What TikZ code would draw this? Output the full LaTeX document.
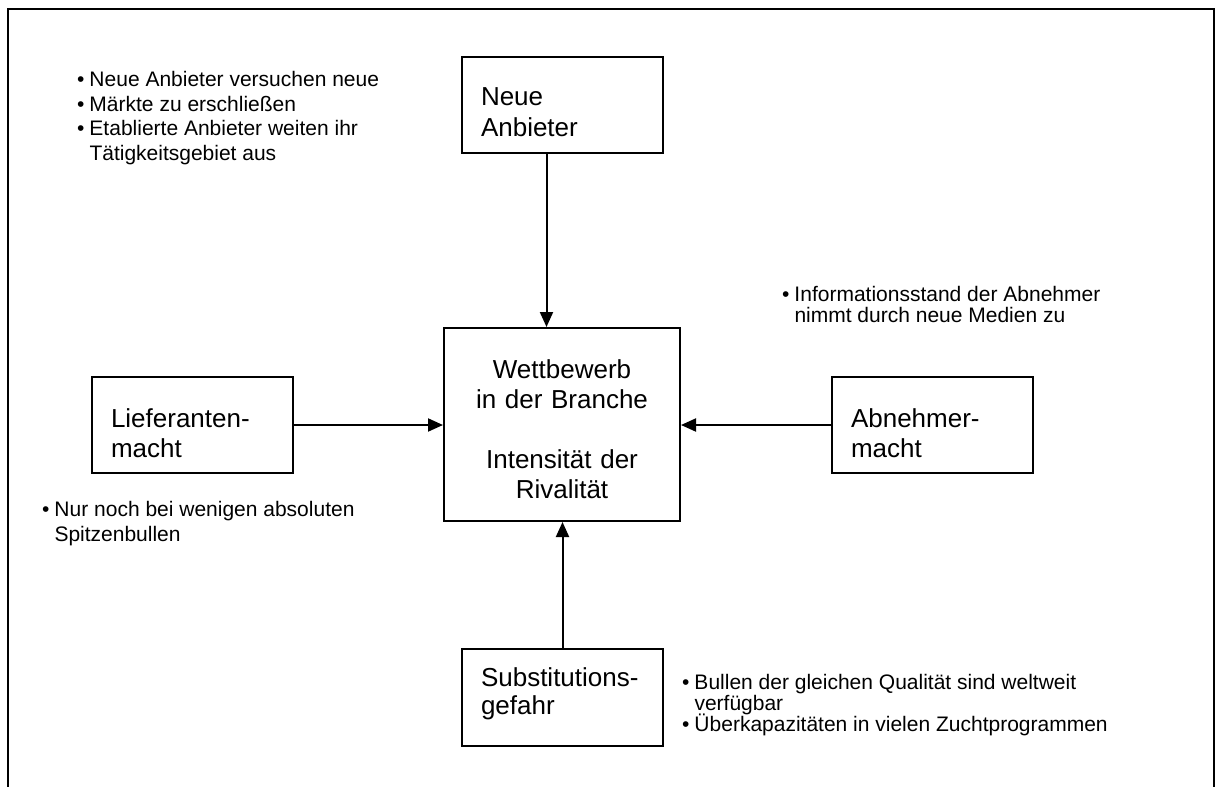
\documentclass[tikz,border=0pt]{standalone}
\usepackage{fontspec}
\setmainfont{Liberation Sans}
\usetikzlibrary{arrows.meta}
\newcommand\up[1]{\rule{0pt}{#1pt}}
\newcommand\dn[1]{\rule[-#1pt]{0pt}{#1pt}}
\newcommand\bl{\makebox[12.3pt][l]{•}}
\newcommand\ind{\hspace*{12.3pt}}
\newcommand\sh{\hspace*{15pt}}
\newcommand\fbig[1]{\fontsize{26}{#1}\selectfont}
\newcommand\fsmall[1]{\fontsize{21}{#1}\selectfont}
\begin{document}
\setlength{\lineskiplimit}{-50pt}
\begin{tikzpicture}[x=1pt,y=-1pt,
  box/.style={draw, line width=2pt, inner xsep=19pt, inner ysep=0pt,
    minimum height=96pt, text width=163pt, align=left, anchor=north west,
    font=\fbig{30}},
  note/.style={anchor=north west, inner sep=0pt, align=left, font=\fsmall{24.5}},
  arr/.style={line width=2pt, -{Triangle[length=15pt,width=13pt]}}
]
\useasboundingbox (0,0) rectangle (1218,787);
\draw[line width=2pt] (7.5,787) -- (7.5,8.5) -- (1213.5,8.5) -- (1213.5,787);

\node[box, font=\fbig{31}] (neue) at (461,56) {\up{33}Neue\\Anbieter};
\node[box] (lief) at (91,376) {\up{36}Lieferanten-\\macht};
\node[box] (abn) at (831,376) {\up{36}Abnehmer-\\macht};
\node[box, minimum height=97pt, font=\fbig{28}] (subs) at (461,648) {\up{20}Substitutions-\\gefahr\dn{15}};
\node[draw, line width=2pt, inner sep=0pt, minimum width=236pt, minimum height=193pt,
  text width=236pt, align=center, anchor=north west, font=\fbig{30}] (wb) at (443,327)
  {\up{29}Wettbewerb\sh\\in der Branche\sh\\[30pt]Intensität der\sh\\Rivalität\sh};

\draw[arr] ([xshift=-16pt]neue.south) -- ([xshift=-16pt]neue.south |- wb.north);
\draw[arr] (subs.north) -- (subs.north |- wb.south);
\draw[arr] (lief.east) -- (lief.east -| wb.west);
\draw[arr] (abn.west) -- (abn.west -| wb.east);

\node[note] (n1) at (77,70.5) {\up{16}\bl Neue Anbieter versuchen neue\\\bl Märkte zu erschließen\\\bl Etablierte Anbieter weiten ihr\\\ind Tätigkeitsgebiet aus};
\node[note] (n2) at (42,500.5) {\up{16}\bl Nur noch bei wenigen absoluten\\\ind Spitzenbullen};
\node[note, font=\fsmall{21}] (n3) at (782,285) {\up{16}\bl Informationsstand der Abnehmer\\\ind nimmt durch neue Medien zu};
\node[note, font=\fsmall{21}] (n4) at (682,673) {\up{16}\bl Bullen der gleichen Qualität sind weltweit\\\ind verfügbar\\\bl Überkapazitäten in vielen Zuchtprogrammen};
\end{tikzpicture}
\end{document}
